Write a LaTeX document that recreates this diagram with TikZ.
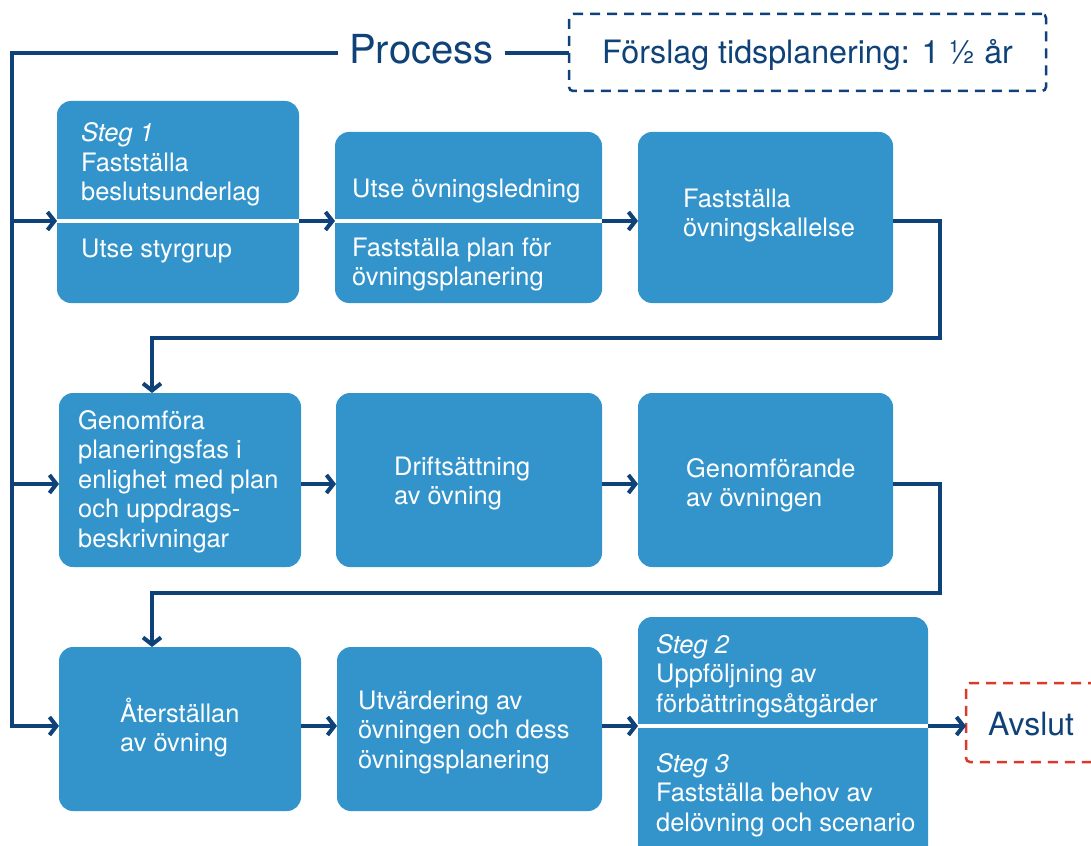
\documentclass[tikz,border=0pt]{standalone}
\usepackage{fontspec}
\setmainfont{TeX Gyre Heros}
\usetikzlibrary{arrows.meta}
\definecolor{boxblue}{RGB}{51,148,204}
\definecolor{navy}{RGB}{14,66,120}
\definecolor{dred}{RGB}{217,58,43}
\newcommand{\boxlines}[1]{\begin{tabular}[t]{@{}l@{}}#1\end{tabular}}
\begin{document}
\begin{tikzpicture}[x=1pt,y=-1pt,
  stepbox/.style={fill=boxblue, rounded corners=14pt, inner sep=0pt, outer sep=0pt, anchor=north west},
  txt/.style={text=white, font=\fontsize{25.4}{29.5}\selectfont, inner sep=0pt, anchor=base west},
  conn/.style={draw=navy, line width=4pt},
  arr/.style={conn, -{Straight Barb[length=7pt,width=18pt]}},
  divider/.style={draw=white, line width=4.5pt},
  dashbox/.style={line width=2.5pt, dash pattern=on 10pt off 7pt, rounded corners=4pt, inner sep=0pt, outer sep=0pt, anchor=north west}]
\useasboundingbox (0,0) rectangle (1091,845);
\fill[white] (0,0) rectangle (1091,845);

% coordinates
\coordinate (ptop) at (12,53);
\coordinate (d1) at (12,221);
\coordinate (r2) at (12,484);
\coordinate (r3) at (12,726);
\coordinate (k1) at (940,338);
\coordinate (k2) at (152,338);
\coordinate (k3) at (940,593);
\coordinate (k4) at (152,593);

% header
\node[font=\fontsize{40}{48}\selectfont, text=navy, inner xsep=11pt, inner ysep=0pt, anchor=base west] (proc) at (338,64) {Process};
\node[dashbox, draw=navy, minimum width=477pt, minimum height=77pt, text=navy,
      font=\fontsize{32.2}{38}\selectfont, text height=23pt, text depth=0pt] (plan) at (569,14) {Förslag tidsplanering: 1 ½ år};

% boxes
\node[stepbox, minimum width=242pt, minimum height=202pt] (b1) at (57,101) {};
\node[stepbox, minimum width=267pt, minimum height=171pt] (b2) at (335,132) {};
\node[stepbox, minimum width=255pt, minimum height=171pt] (b3) at (638,132) {};
\node[stepbox, minimum width=242pt, minimum height=174pt] (b4) at (59,393) {};
\node[stepbox, minimum width=266pt, minimum height=174pt] (b5) at (336,393) {};
\node[stepbox, minimum width=255pt, minimum height=174pt] (b6) at (638,393) {};
\node[stepbox, minimum width=242pt, minimum height=164pt] (b7) at (59,647) {};
\node[stepbox, minimum width=265pt, minimum height=164pt] (b8) at (337,647) {};
\node[stepbox, minimum width=290pt, minimum height=250pt] (b9) at (638,617) {};
\node[dashbox, draw=dred, minimum width=170pt, minimum height=79pt] (avs) at (966,683) {};

% dividers
\draw[divider] (b1.west |- d1) -- (b1.east |- d1);
\draw[divider] (b2.west |- d1) -- (b2.east |- d1);
\draw[divider] (b9.west |- r3) -- (b9.east |- r3);

% texts
\node[txt] (t1) at (81,142) {\boxlines{\textit{Steg 1}\\Fastställa\\beslutsunderlag}};
\node[txt] (t1b) at (81,257) {Utse styrgrup};
\node[txt] (t2) at (352,197) {Utse övningsledning};
\node[txt] (t2b) at (352,256) {\boxlines{Fastställa plan för\\övningsplanering}};
\node[txt] (t3) at (683,207) {\boxlines{Fastställa\\övningskallelse}};
\node[txt] (t4) at (78,429) {\boxlines{Genomföra\\planeringsfas i\\enlighet med plan\\och uppdrags-\\beskrivningar}};
\node[txt] (t5) at (394,475) {\boxlines{Driftsättning\\av övning}};
\node[txt] (t6) at (686,477) {\boxlines{Genomförande\\av övningen}};
\node[txt] (t7) at (120,722) {\boxlines{Återställan\\av övning}};
\node[txt] (t8) at (358,709) {\boxlines{Utvärdering av\\övningen och dess\\övningsplanering}};
\node[txt] (t9) at (656,653) {\boxlines{\textit{Steg 2}\\Uppföljning av\\förbättringsåtgärder}};
\node[txt] (t9b) at (656,772) {\boxlines{\textit{Steg 3}\\Fastställa behov av\\delövning och scenario}};
\node[text=navy, font=\fontsize{32}{38}\selectfont, inner sep=0pt, anchor=base west] (avt) at (988,735) {Avslut};

% connectors
\draw[conn] (proc.east |- ptop) -- (plan.west |- ptop);
\draw[arr] (proc.west |- ptop) -- (ptop) -- (r3) -- (b7.west |- r3);
\draw[arr] (d1) -- (b1.west |- d1);
\draw[arr] (r2) -- (b4.west |- r2);
\draw[arr] (b1.east |- d1) -- (b2.west |- d1);
\draw[arr] (b2.east |- d1) -- (b3.west |- d1);
\draw[arr] (b3.east |- d1) -| (k1) -- (k2) -- (k2 |- b4.north);
\draw[arr] (b4.east |- r2) -- (b5.west |- r2);
\draw[arr] (b5.east |- r2) -- (b6.west |- r2);
\draw[arr] (b6.east |- r2) -| (k3) -- (k4) -- (k4 |- b7.north);
\draw[arr] (b7.east |- r3) -- (b8.west |- r3);
\draw[arr] (b8.east |- r3) -- (b9.west |- r3);
\draw[arr] (b9.east |- r3) -- (avs.west |- r3);
\end{tikzpicture}
\end{document}
